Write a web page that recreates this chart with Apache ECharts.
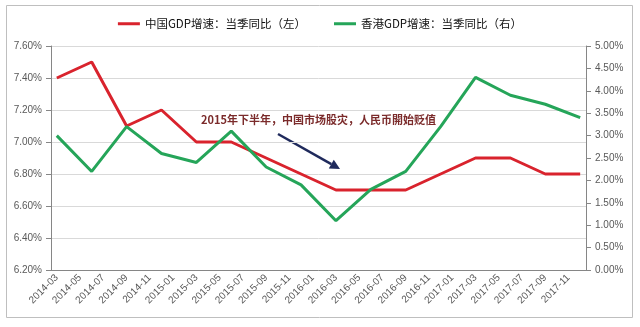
<!DOCTYPE html>
<html><head><meta charset="utf-8">
<script src="https://cdn.jsdelivr.net/npm/echarts@6/dist/echarts.min.js"></script>
<style>html,body{margin:0;padding:0;background:#fff}#c{width:640px;height:327px}</style>
</head><body><div id="c"></div>
<script>
// Quarter-end months of the data points
const quarters = ['2014-03','2014-06','2014-09','2014-12','2015-03','2015-06','2015-09','2015-12',
                  '2016-03','2016-06','2016-09','2016-12','2017-03','2017-06','2017-09','2017-12'];
// China GDP growth, YoY (%), left axis
const chinaGDP = [7.4,7.5,7.1,7.2,7.0,7.0,6.9,6.8,6.7,6.7,6.7,6.8,6.9,6.9,6.8,6.8];
// Hong Kong GDP growth, YoY (%), right axis
const hkGDP = [3.0,2.2,3.2,2.6,2.4,3.1,2.3,1.9,1.1,1.8,2.2,3.2,4.3,3.9,3.7,3.4];
// Tick labels
const leftTicks = {min:6.2, max:7.6, interval:0.2};
const rightTicks = {min:0, max:5, interval:0.5};
const seriesNames = ['中国GDP增速：当季同比（左）','香港GDP增速：当季同比（右）'];
const note = '2015年下半年，中国市场股灾，人民币開始贬值';

// monthly slots from first to last quarter (date axis, base unit month)
const monthSlots = [];
(function(){
  let [y,m] = quarters[0].split('-').map(Number);
  const [ly,lm] = quarters[quarters.length-1].split('-').map(Number);
  while (y < ly || (y === ly && m <= lm)) {
    monthSlots.push(y + '-' + String(m).padStart(2,'0'));
    m++; if (m > 12) { m = 1; y++; }
  }
})();
function toSlots(vals){
  const arr = monthSlots.map(()=>null);
  quarters.forEach((q,i)=>{ arr[monthSlots.indexOf(q)] = vals[i]; });
  return arr;
}

const chart = echarts.init(document.getElementById('c'));
const axisFont = {fontFamily:'Liberation Sans', fontSize:10, color:'#595959'};
chart.setOption({
  animation:false,
  backgroundColor:'#fff',
  grid:{left:51, right:54, top:46, bottom:57},
  legend:{
    top:13, left:'center', itemWidth:22, itemHeight:3, icon:'rect', itemGap:28,
    textStyle:{fontFamily:'Noto Sans CJK SC', fontSize:11.5, color:'#111'},
    data:seriesNames
  },
  xAxis:{
    type:'category', data:monthSlots, boundaryGap:true,
    axisLine:{lineStyle:{color:'#868686'}},
    axisTick:{interval:1, length:4, lineStyle:{color:'#868686'}},
    axisLabel:Object.assign({interval:1, rotate:45, margin:6}, axisFont),
    splitLine:{show:false}
  },
  yAxis:[
    {type:'value', min:leftTicks.min, max:leftTicks.max, interval:leftTicks.interval,
     axisLine:{show:true, lineStyle:{color:'#868686'}},
     axisTick:{show:true, length:5, lineStyle:{color:'#868686'}},
     axisLabel:Object.assign({margin:9, formatter:v=>v.toFixed(2)+'%'}, axisFont),
     splitLine:{show:true, lineStyle:{color:'#d9d9d9', width:1}}},
    {type:'value', min:rightTicks.min, max:rightTicks.max, interval:rightTicks.interval,
     axisLine:{show:true, lineStyle:{color:'#868686'}},
     axisTick:{show:true, length:5, lineStyle:{color:'#868686'}},
     axisLabel:Object.assign({margin:9, formatter:v=>v.toFixed(2)+'%'}, axisFont),
     splitLine:{show:false}}
  ],
  series:[
    {name:seriesNames[0], type:'line', yAxisIndex:0, data:toSlots(chinaGDP), connectNulls:true,
     showSymbol:false, symbol:'none', color:'#d9232d', lineStyle:{width:3, color:'#d9232d'}},
    {name:seriesNames[1], type:'line', yAxisIndex:1, data:toSlots(hkGDP), connectNulls:true,
     showSymbol:false, symbol:'none', color:'#25a559', lineStyle:{width:3, color:'#25a559'}}
  ],
  graphic:[
    {type:'rect', shape:{x:6.5, y:5.5, width:626, height:312}, style:{fill:null, stroke:'#bfbfbf', lineWidth:1}, silent:true},
    {type:'text', left:201, top:114, style:{text:note, fontFamily:'Noto Sans CJK SC', fontWeight:'bold', fontSize:11, fill:'#7b2b2b'}},
    {type:'line', shape:{x1:278, y1:134, x2:331.3, y2:164.1}, style:{stroke:'#1f2a5c', lineWidth:2.5}},
    {type:'polygon', shape:{points:[[340,169],[328.8,168.4],[333.8,159.7]]}, style:{fill:'#1f2a5c'}}
  ]
});
</script></body></html>
